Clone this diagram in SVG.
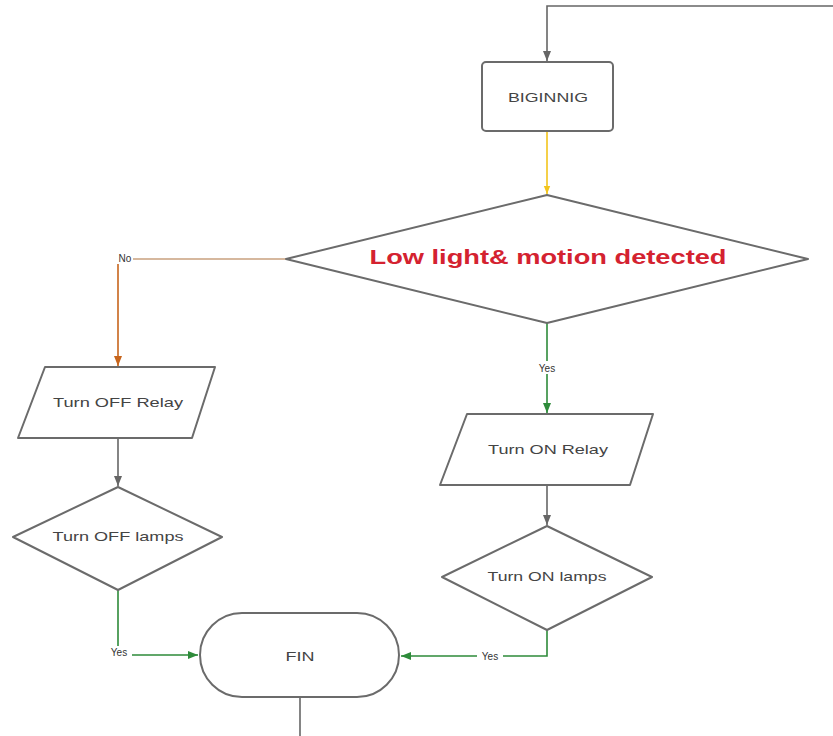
<svg xmlns="http://www.w3.org/2000/svg" width="833" height="736" viewBox="0 0 833 736">
<style>
.shape{fill:#fff;stroke:#6b6b6b;stroke-width:2;stroke-linejoin:round}
.lbl{font-family:"Liberation Sans",Arial,sans-serif;font-size:13px;fill:#444;text-anchor:middle;dominant-baseline:central}
.cl{font-family:"Liberation Sans",Arial,sans-serif;font-size:10px;fill:#333;text-anchor:middle;dominant-baseline:central}
.c{fill:none;stroke-width:1.6}
.gray{stroke:#666}
.green{stroke:#2e8b3a}
.orange{stroke:#c7651c}
.tan{stroke:#c9a07e}
.yellow{stroke:#f3c51c}
.bg{fill:#fff}
</style>
<defs>
<marker id="ag" markerUnits="userSpaceOnUse" markerWidth="10" markerHeight="10" viewBox="0 0 10 10" refX="10" refY="5" orient="auto"><path d="M0,1 L10,5 L0,9 Z" fill="#666"/></marker>
<marker id="agr" markerUnits="userSpaceOnUse" markerWidth="10" markerHeight="10" viewBox="0 0 10 10" refX="10" refY="5" orient="auto"><path d="M0,1 L10,5 L0,9 Z" fill="#2e8b3a"/></marker>
<marker id="aor" markerUnits="userSpaceOnUse" markerWidth="10" markerHeight="10" viewBox="0 0 10 10" refX="10" refY="5" orient="auto"><path d="M0,1 L10,5 L0,9 Z" fill="#c7651c"/></marker>
<marker id="aye" markerUnits="userSpaceOnUse" markerWidth="8" markerHeight="8" viewBox="0 0 10 10" refX="10" refY="5" orient="auto"><path d="M0,1 L10,5 L0,9 Z" fill="#f3c51c"/></marker>
</defs>
<rect width="833" height="736" fill="#fff"/>
<g id="connectors">
<path class="c gray" d="M833,6 H547 V61" marker-end="url(#ag)"/>
<path class="c yellow" d="M547,131 V194" marker-end="url(#aye)"/>
<path class="c tan" d="M286,259 H133"/>
<path class="c orange" d="M118,264 V366" marker-end="url(#aor)"/>
<path class="c green" d="M547,323 V413" marker-end="url(#agr)"/>
<path class="c gray" d="M118,438 V486" marker-end="url(#ag)"/>
<path class="c gray" d="M547,485 V525" marker-end="url(#ag)"/>
<path class="c green" d="M118,590 V655 H198" marker-end="url(#agr)"/>
<path class="c green" d="M547,630 V656 H401" marker-end="url(#agr)"/>
<path class="c gray" d="M300,697 V736"/>
<text class="cl" x="125" y="258">No</text>
<rect class="bg" x="534" y="361" width="26" height="13"/>
<text class="cl" x="547" y="368">Yes</text>
<rect class="bg" x="106" y="646" width="26" height="13"/>
<text class="cl" x="119" y="652">Yes</text>
<rect class="bg" x="477" y="650" width="26" height="13"/>
<text class="cl" x="490" y="656">Yes</text>
</g>
<g id="start">
<rect class="shape" x="482" y="62" width="131" height="69" rx="4"/>
<text class="lbl" x="548" y="97" textLength="80" lengthAdjust="spacingAndGlyphs">BIGINNIG</text>
</g>
<g id="decision">
<polygon class="shape" points="547,195 808,259 547,323 286,259"/>
<text x="548" y="257" font-family="'Liberation Sans',Arial,sans-serif" font-weight="bold" font-size="20" fill="#d42230" text-anchor="middle" dominant-baseline="central" textLength="357" lengthAdjust="spacingAndGlyphs">Low light&amp; motion detected</text>
</g>
<g id="off-relay">
<polygon class="shape" points="45,367 215,367 192,438 18,438"/>
<text class="lbl" x="118" y="402" textLength="130" lengthAdjust="spacingAndGlyphs">Turn OFF Relay</text>
</g>
<g id="off-lamps">
<polygon class="shape" points="118,487 222,537 118,590 13,537"/>
<text class="lbl" x="118" y="536" textLength="131" lengthAdjust="spacingAndGlyphs">Turn OFF lamps</text>
</g>
<g id="on-relay">
<polygon class="shape" points="467,414 653,414 630,485 440,485"/>
<text class="lbl" x="548" y="449" textLength="120" lengthAdjust="spacingAndGlyphs">Turn ON Relay</text>
</g>
<g id="on-lamps">
<polygon class="shape" points="547,526 652,577 547,630 442,577"/>
<text class="lbl" x="547" y="576" textLength="119" lengthAdjust="spacingAndGlyphs">Turn ON lamps</text>
</g>
<g id="end">
<rect class="shape" x="200" y="613" width="199" height="84" rx="42"/>
<text class="lbl" x="300" y="656" textLength="29" lengthAdjust="spacingAndGlyphs">FIN</text>
</g>
</svg>
